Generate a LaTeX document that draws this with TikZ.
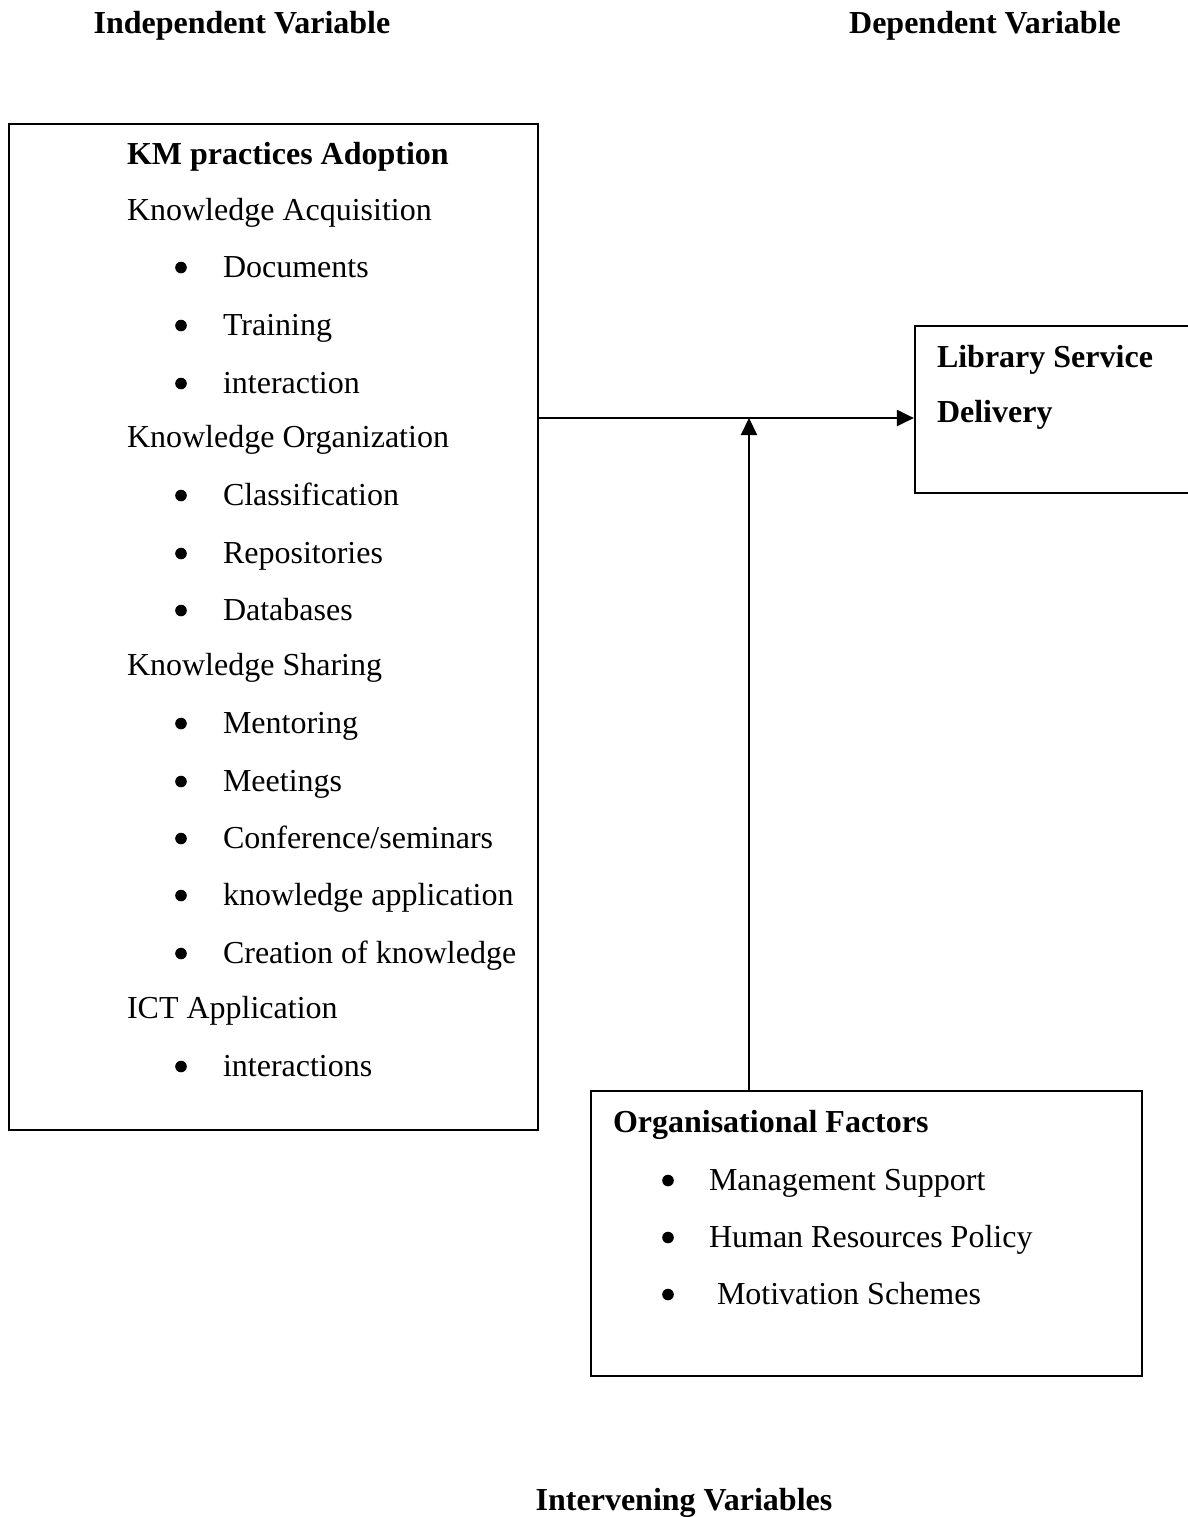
\documentclass[tikz,border=0pt]{standalone}
\usepackage{fontspec}
\setmainfont{Liberation Serif}
\usetikzlibrary{arrows.meta, positioning, fit}
\tikzset{
  every picture/.style={font=\fontsize{16}{19}\selectfont, line width=1pt, x=0.5pt, y=-0.5pt},
  panel/.style={draw, line width=1.1pt, inner sep=0pt},
  vartitle/.style={font=\fontsize{16}{19}\selectfont\bfseries, anchor=base, inner sep=0pt},
  heading/.style={font=\fontsize{16}{19}\selectfont\bfseries, anchor=base west, inner sep=0pt},
  entry/.style={anchor=base west, inner sep=0pt},
  dot/.style={circle, fill, inner sep=0pt, minimum size=5.8pt},
  arrow/.style={-{Triangle[length=8.5pt, width=8pt]}, line width=1.1pt},
}
\begin{document}
\begin{tikzpicture}
  \useasboundingbox (0,0) rectangle (1188,1517);
  % variable titles
  \node[vartitle] (indep) at (242,33) {Independent Variable};
  \node[vartitle] (dep) at (985,33) {Dependent Variable};
  \node[vartitle] (interv) at (684,1510) {Intervening Variables};
  % boxes
  \node[panel, fit={(9,124) (538,1130)}] (kmbox) {};
  \node[panel, fit={(915,326) (1210,493)}] (lsd) {};
  \node[panel, fit={(591,1091) (1142,1376)}] (ofbox) {};
  % KM practices
  \node[heading] (kmhead) at (126,164) {KM practices Adoption};
  \node[entry] (acq) at (126,220) {Knowledge Acquisition};
  \node[entry] (org) at (126,447) {Knowledge Organization};
  \node[entry] (shr) at (126,675) {Knowledge Sharing};
  \node[entry] (ict) at (126,1018) {ICT Application};
  \foreach \yy/\txt [count=\i] in {277/Documents, 335/Training, 393/interaction,
      505/Classification, 563/Repositories, 620/Databases,
      733/Mentoring, 791/Meetings, 848/{Conference/seminars},
      905/knowledge application, 963/Creation of knowledge, 1076/interactions}{
    \node[dot] (kmdot\i) at (181,\yy-9.5) {};
    \node[entry] (kmitem\i) at (222,\yy) {\txt};
  }
  % dependent variable
  \node[heading] (lsdhead) at (936,367) {Library Service};
  \node[heading] (lsdhead2) at (936,422) {Delivery};
  % organisational factors
  \node[heading] (ofhead) at (612,1132) {Organisational Factors};
  \foreach \yy/\xx/\txt [count=\i] in {1190/708/Management Support,
      1247/708/Human Resources Policy, 1304/716/Motivation Schemes}{
    \node[dot] (ofdot\i) at (668,\yy-9.5) {};
    \node[entry] (ofitem\i) at (\xx,\yy) {\txt};
  }
  % connectors
  \coordinate (junc) at (749,418);
  \draw[arrow] (kmbox.east |- junc) -- (lsd.west |- junc);
  \draw[arrow] (ofbox.north -| junc) -- (junc);
\end{tikzpicture}
\end{document}
